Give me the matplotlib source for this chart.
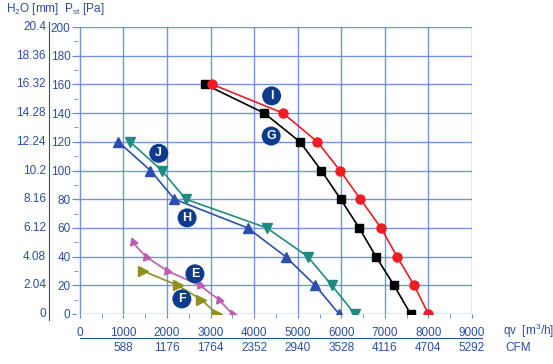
import matplotlib
matplotlib.use('Agg')
import matplotlib.pyplot as plt
import matplotlib.transforms as mtransforms

plt.rcParams['font.family'] = ['Liberation Sans', 'DejaVu Sans']
plt.rcParams['mathtext.fontset'] = 'custom'
plt.rcParams['mathtext.rm'] = 'Liberation Sans'
plt.rcParams['mathtext.it'] = 'Liberation Sans'

# curves: flow [m3/h] vs static pressure [Pa]
g_q = [2870, 4230, 5050, 5540, 5985, 6410, 6795, 7210, 7590]
g_p = [160, 140, 120, 100, 80, 60, 40, 20, 0]
i_q = [3040, 4660, 5450, 5970, 6440, 6910, 7280, 7670, 8000]
i_p = [160, 140, 120, 100, 80, 60, 40, 20, 0]
h_q = [880, 1620, 2170, 3850, 4720, 5400, 5950]
h_p = [120, 100, 80, 60, 40, 20, 0]
j_q = [1150, 1880, 2430, 4290, 5230, 5780, 6310]
j_p = [120, 100, 80, 60, 40, 20, 0]
e_q = [1210, 1510, 2010, 2750, 3190, 3500]
e_p = [50, 40, 30, 20, 10, 0]
f_q = [1450, 2240, 2790, 3140]
f_p = [30, 20, 10, 0]

qv_ticks = [0, 1000, 2000, 3000, 4000, 5000, 6000, 7000, 8000, 9000]
cfm_labels = ['', '588', '1176', '1764', '2352', '2940', '3528', '4116', '4704', '5292']
pst_ticks = [0, 20, 40, 60, 80, 100, 120, 140, 160, 180, 200]
h2o_labels = ['0', '2.04', '4.08', '6.12', '8.16', '10.2', '12.24', '14.28', '16.32', '18.36', '20.4']

# curve letter tags (q, p)
tags = {'I': (4400, 152), 'G': (4390, 124), 'J': (1810, 112),
        'H': (2460, 67), 'E': (2640, 28), 'F': (2340, 10.5)}

txt = '#2b4ea3'
gridc = '#5d84cf'
fs = 8.5

fig = plt.figure(figsize=(5.53, 3.64), dpi=100)
ax = fig.add_axes([76/553, 1 - 314/364, 396/553, 287/364])
ax.set_xlim(-90, 9000)
ax.set_ylim(0, 200)

ax.set_xticks(qv_ticks)
ax.set_xticks(range(500, 9000, 1000), minor=True)
ax.set_yticks(pst_ticks)
ax.set_yticks(range(10, 200, 20), minor=True)
ax.grid(True, which='major', color=gridc, linewidth=1.0, alpha=0.85)
for s in ax.spines.values():
    s.set_visible(False)
ax.tick_params(axis='x', which='major', length=3, color=gridc, pad=6,
               labelsize=fs, labelcolor=txt)
ax.tick_params(axis='x', which='minor', length=3, color=gridc)
ax.tick_params(axis='y', which='major', length=3, color=gridc, pad=1,
               labelsize=fs, labelcolor=txt)
ax.tick_params(axis='y', which='minor', length=2.5, direction='inout', color=gridc)
ax.set_xticklabels([str(v) for v in qv_ticks])

ax.plot(e_q, e_p, color='#c05cb0', marker=(3, 0, -100), markersize=6.5, lw=1.2, zorder=3)
ax.plot(f_q, f_p, color='#8f8f22', marker='>', markersize=6.5, lw=1.2, zorder=3)
ax.plot(h_q, h_p, color='#2a4fb0', marker='^', markersize=6.5, lw=1.2, zorder=3)
ax.plot(j_q, j_p, color='#1f8c80', marker='v', markersize=6.5, lw=1.2, zorder=3)
ax.plot(g_q, g_p, color='black', marker='s', markersize=5.5, lw=1.2, zorder=3)
ax.plot(i_q, i_p, color='#ee1c24', marker='o', markersize=6.5, lw=1.2, zorder=3)

for k, (q, p) in tags.items():
    ax.text(q, p, k, color='white', fontsize=9, fontweight='bold', ha='center', va='center',
            bbox=dict(boxstyle='circle,pad=0.28', fc='#0d3b8e', ec='none'), zorder=5)

# H2O scale at the left
tr_y = mtransforms.blended_transform_factory(fig.transFigure, ax.transData)
for p, lab in zip(pst_ticks, h2o_labels):
    ax.text(46/553, p, lab, transform=tr_y, ha='right', va='center', fontsize=fs, color=txt)
fig.add_artist(plt.Line2D([49/553, 49/553], [1 - 320/364, 1 - 22/364], color=txt, lw=0.8))

# CFM scale at the bottom
tr_x = mtransforms.blended_transform_factory(ax.transData, fig.transFigure)
for q, lab in zip(qv_ticks, cfm_labels):
    ax.text(q, 1 - 348/364, lab, transform=tr_x, ha='center', va='center', fontsize=fs, color=txt)
fig.add_artist(plt.Line2D([80/553, 482/553], [1 - 338/364, 1 - 338/364], color=txt, lw=0.8))

fig.text(503/553, 1 - 331/364, r'qv  [m$^3$/h]', ha='left', va='center', fontsize=fs, color=txt)
fig.text(505/553, 1 - 348/364, 'CFM', ha='left', va='center', fontsize=fs, color=txt)
fig.text(6/553, 1 - 9/364, r'H$_2$O [mm]  P$_{st}$ [Pa]', ha='left', va='center',
         fontsize=fs, color=txt)

fig.savefig('out.png', dpi=100)
